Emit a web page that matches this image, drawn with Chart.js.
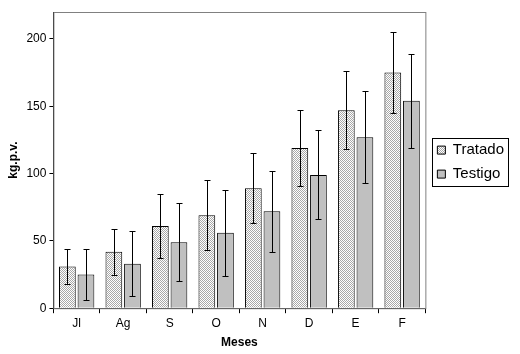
<!DOCTYPE html>
<html>
<head>
<meta charset="utf-8">
<script src="https://cdn.jsdelivr.net/npm/chart.js@4"></script>
<style>
  body { margin: 0; background: #fff; }
  #wrap { width: 520px; height: 354px; }
</style>
</head>
<body>
<div id="wrap"><canvas id="cntx_meses"></canvas></div>
<script>
const meses = ["Jl", "Ag", "S", "O", "N", "D", "E", "F"];
const tratado = [31, 42, 61, 69, 89, 119, 147, 175];
const testigo = [25, 33, 49, 56, 72, 99, 127, 154];
const tratadoErr = [13, 17, 24, 26, 26, 28, 29, 30];
const testigoErr = [19, 24, 29, 32, 30, 33, 34, 35];
const yTicks = [0, 50, 100, 150, 200];

const tickFont = { family: "Arial", size: 12 };

makeDots = () => {
	const c = document.createElement("canvas");
	c.width = 2;
	c.height = 2;
	const g = c.getContext("2d");
	g.fillStyle = "#ffffff";
	g.fillRect(0, 0, 2, 2);
	g.fillStyle = "#a8a8a8";
	g.fillRect(0, 0, 1, 1);
	g.fillRect(1, 1, 1, 1);
	return g.createPattern(c, "repeat");
};
const dots = makeDots();

// error bars + frame + legend border
const extras = {
	id: "extras",
	afterLayout(chart) {
		const l = chart.legend;
		const a = chart.chartArea;
		l.top = a.top + 2;
		l.bottom = a.bottom + 2;
		l.left += 3;
		l.right += 3;
	},
	beforeDatasetsDraw(chart) {
		const a = chart.chartArea;
		const ctx = chart.ctx;
		ctx.save();
		ctx.strokeStyle = "#808080";
		ctx.lineWidth = 1;
		ctx.strokeRect(a.left + 0.5, a.top + 0.5, a.right - a.left, a.bottom - a.top);
		ctx.restore();
	},
	afterDatasetsDraw(chart) {
		const ctx = chart.ctx;
		const y = chart.scales.y;
		const errs = [tratadoErr, testigoErr];
		ctx.save();
		ctx.strokeStyle = "#000";
		ctx.lineWidth = 1;
		chart.data.datasets.forEach((ds, i) => {
			chart.getDatasetMeta(i).data.forEach((bar, j) => {
				const x = Math.round(bar.x) + 0.5;
				const hi = Math.round(y.getPixelForValue(ds.data[j] + errs[i][j])) + 0.5;
				const lo = Math.round(y.getPixelForValue(ds.data[j] - errs[i][j])) + 0.5;
				ctx.beginPath();
				ctx.moveTo(x, hi);
				ctx.lineTo(x, lo);
				ctx.moveTo(x - 3, hi);
				ctx.lineTo(x + 3, hi);
				ctx.moveTo(x - 3, lo);
				ctx.lineTo(x + 3, lo);
				ctx.stroke();
			});
		});
		ctx.restore();
	},
	afterDraw(chart) {
		const boxes = chart.legend.legendHitBoxes;
		if (!boxes || !boxes.length) return;
		const ctx = chart.ctx;
		let x0 = Infinity, y0 = Infinity, x1 = -Infinity, y1 = -Infinity;
		boxes.forEach((b) => {
			x0 = Math.min(x0, b.left);
			y0 = Math.min(y0, b.top);
			x1 = Math.max(x1, b.left + b.width);
			y1 = Math.max(y1, b.top + b.height);
		});
		ctx.save();
		ctx.strokeStyle = "#000";
		ctx.lineWidth = 1;
		ctx.strokeRect(Math.round(x0 - 5) + 0.5, Math.round(y0 - 5) + 0.5, Math.round(x1 - x0 + 9), Math.round(y1 - y0 + 9));
		ctx.restore();
	},
};

drawChart = (canvas) => {
	const myChart = new Chart(canvas, {
		type: "bar",
		data: {
			labels: meses,
			datasets: [
				{
					label: "Tratado",
					data: tratado,
					backgroundColor: dots,
					borderColor: "#000",
					borderWidth: 1,
				},
				{
					label: "Testigo",
					data: testigo,
					backgroundColor: "#c0c0c0",
					borderColor: "#000",
					borderWidth: 1,
				},
			],
		},
		options: {
			responsive: true,
			maintainAspectRatio: false,
			animation: false,
			layout: { padding: { top: 12, right: 9, left: 0, bottom: 4 } },
			scales: {
				x: {
					categoryPercentage: 0.6,
					barPercentage: 1,
					grid: { display: true, drawOnChartArea: false, offset: true, tickLength: 5, color: "#000" },
					border: { color: "#000" },
					ticks: { color: "#000", font: tickFont, padding: 3 },
					title: { display: true, text: "Meses", color: "#000", font: { family: "Arial", size: 12, weight: "bold" }, padding: { top: 2, bottom: 0 } },
				},
				y: {
					min: 0,
					max: 220,
					afterBuildTicks: (axis) => {
						axis.ticks = yTicks.map((v) => ({ value: v }));
					},
					grid: { drawOnChartArea: false, tickLength: 4, color: "#000" },
					border: { color: "#000" },
					ticks: { color: "#000", font: tickFont, padding: 3 },
					title: { display: true, text: "kg.p.v.", color: "#000", font: { family: "Arial", size: 12, weight: "bold" }, padding: { top: 6, bottom: 3 } },
				},
			},
			plugins: {
				legend: {
					position: "right",
					labels: {
						color: "#000",
						font: { family: "Arial", size: 15 },
						boxWidth: 8,
						boxHeight: 8,
						padding: 9,
					},
				},
				tooltip: { enabled: false },
			},
		},
		plugins: [extras],
	});
};
drawChart(document.querySelector("#cntx_meses"));
</script>
</body>
</html>
